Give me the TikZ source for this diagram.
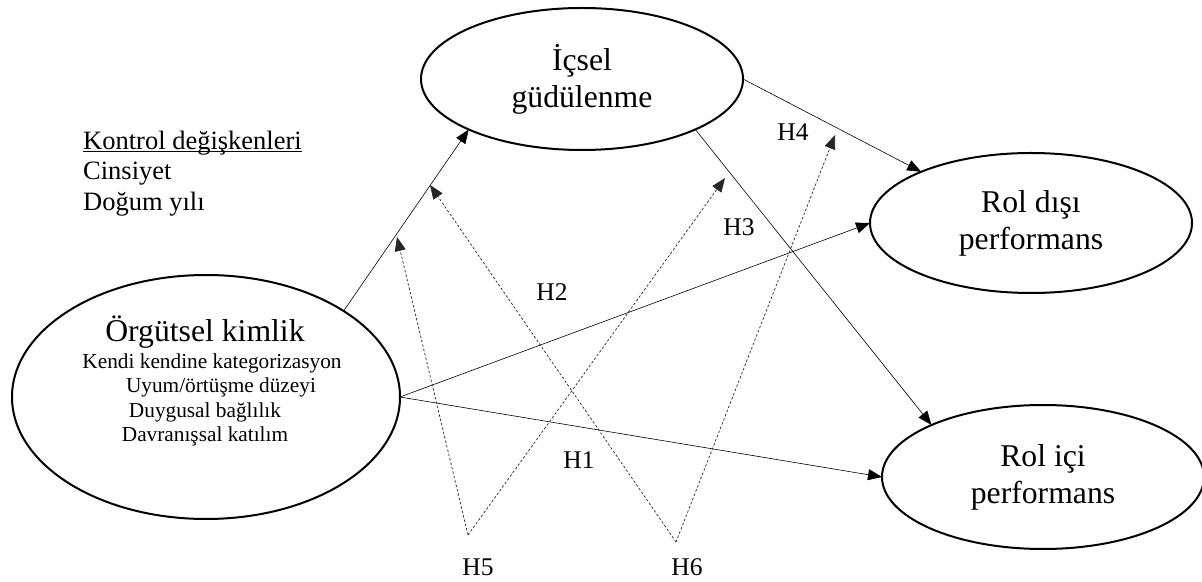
\documentclass[tikz,border=0pt]{standalone}
\usepackage{fontspec}
\setmainfont{Liberation Serif}
\usetikzlibrary{shapes.geometric, arrows.meta}

\begin{document}
\begin{tikzpicture} [x=1pt, y=1pt, align=center, >={Triangle[length=14pt,width=11pt]},
	var/.style={ellipse, draw, line width=2pt, minimum width=322pt, minimum height=142pt, inner sep=0pt, outer sep=0pt, font=\fontsize{31.7}{37}\selectfont},
	link/.style={->, line width=0.6pt},
	hyp/.style={->, line width=0.7pt, dash pattern=on 2.5pt off 2pt, black!85},
	hlab/.style={font=\fontsize{25.5}{30}\selectfont},
	ctrl/.style={anchor=base west, inner sep=0pt, font=\fontsize{26.5}{30}\selectfont},
	itemtext/.style={anchor=base, inner sep=0pt, font=\fontsize{21.3}{24}\selectfont}]

\useasboundingbox (0,0) rectangle (1202,581);

\node[var, minimum width=388pt, minimum height=244pt]	(org)	at (206,184)	{};
\node[var]		(ics)		at (582,502)	{İçsel \\ güdülenme};
\node[var, minimum height=140pt]	(disi)	at (1031,358)	{Rol dışı \\ performans};
\node[var, minimum height=144pt]	(ici)		at (1043,104)	{Rol içi \\ performans};

% text of the big ellipse
\node[itemtext, font=\fontsize{31.7}{37}\selectfont]	(orgt)	at (205,239)	{Örgütsel kimlik};
\node[itemtext]	(orga)	at (212,212)	{Kendi kendine kategorizasyon};
\node[itemtext]	(orgb)	at (221,188)	{Uyum/örtüşme düzeyi};
\node[itemtext]	(orgc)	at (205,163)	{Duygusal bağlılık};
\node[itemtext]	(orgd)	at (205,139)	{Davranışsal katılım};

% control variables
\node[ctrl]	(kontrol)	at (83,431)	{\underline{\smash{Kontrol değişkenleri}}};
\node[ctrl]	(cins)	at (83,401)	{Cinsiyet};
\node[ctrl]	(dogum)	at (83,370)	{Doğum yılı};

\node[hlab]	(h1)	at (579,121)	{H1};
\node[hlab]	(h2)	at (552,289)	{H2};
\node[hlab]	(h3)	at (739,354)	{H3};
\node[hlab]	(h4)	at (793,449)	{H4};
\node[hlab]	(h5)	at (478,14)	{H5};
\node[hlab]	(h6)	at (687,14)	{H6};

\coordinate	(h5v)	at (468,46);
\coordinate	(h6v)	at (676,39);
\coordinate	(h5a)	at (397,344);
\coordinate	(h5b)	at (725,403);
\coordinate	(h6a)	at (430,396);
\coordinate	(h6b)	at (835,446);

\path[link]
		(org.32)	edge		(ics.204)
		(org.east)	edge		(disi.west)
				edge		(ici.west)
		(ics.east)	edge		(disi.155)
		(ics.336)	edge		(ici.155)
;

\path[hyp]
		(h5v)	edge	(h5a)
			edge	(h5b)
		(h6v)	edge	(h6a)
			edge	(h6b)
;

\end{tikzpicture}
\end{document}
